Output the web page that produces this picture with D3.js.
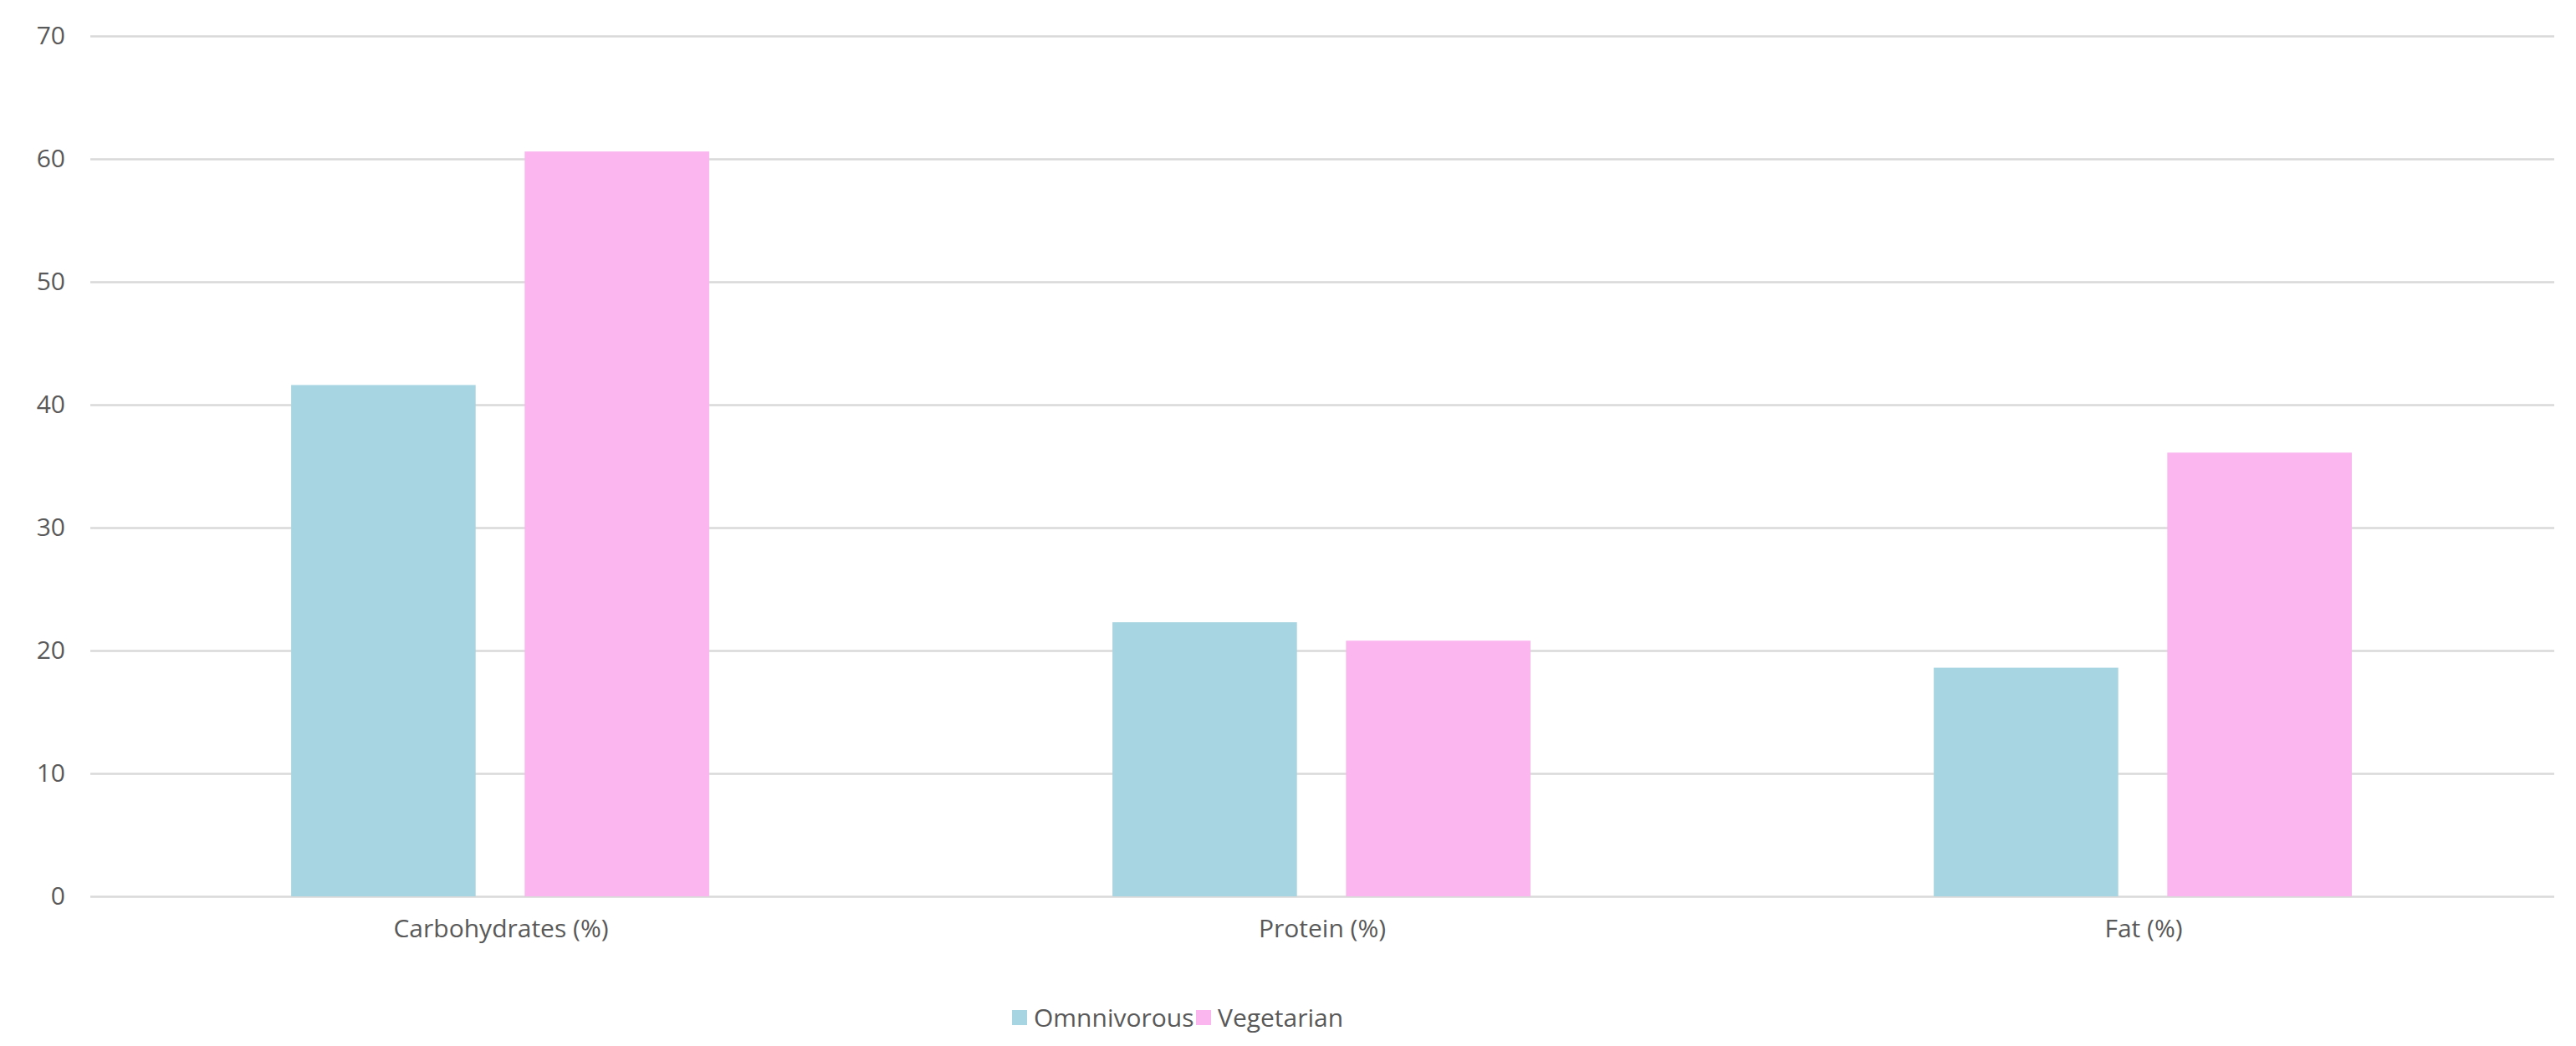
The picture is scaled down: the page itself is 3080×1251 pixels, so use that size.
<!DOCTYPE html><html><head><meta charset="utf-8"><script src="https://cdn.jsdelivr.net/npm/d3@7"></script>
<style>body{margin:0;background:#fff}text{font-family:"Open Sans",Lato,sans-serif;fill:#595959}</style></head><body>
<svg id="c" width="3080" height="1251"></svg>
<script>
const categories=["Carbohydrates (%)","Protein (%)","Fat (%)"];
const seriesNames=["Omnnivorous","Vegetarian"];
const omnivorous=[41.6,22.3,18.6];
const vegetarian=[60.6,20.8,36.1];
const yTicks=[0,10,20,30,40,50,60,70];
const colors=["#a8d5e2","#fbb6ef"];
const svg=d3.select("#c");
const L=108,R=3054,T=43,B=1072;
const y=d3.scaleLinear().domain([0,70]).range([B,T]);
const x0=d3.scaleBand().domain(categories).range([L,R]).padding(0);
const bw=x0.bandwidth();
const x1=d3.scaleBand().domain(seriesNames).range([bw*0.2445,bw*0.7535]).paddingInner(0.21);
const ya=svg.append("g").attr("transform",`translate(${L},0)`).call(d3.axisLeft(y).tickValues(yTicks).tickSize(-(R-L)).tickPadding(30));
ya.select(".domain").remove();
ya.selectAll("line").attr("stroke","#d9d9d9").attr("stroke-width",2.5);
ya.selectAll("text").style("font-size","30px");
const vals=[omnivorous,vegetarian];
categories.forEach((c,i)=>{
  seriesNames.forEach((s,j)=>{
    svg.append("rect").attr("x",x0(c)+x1(s)).attr("width",x1.bandwidth())
      .attr("y",y(vals[j][i])).attr("height",y(0)-y(vals[j][i])).attr("fill",colors[j]);
  });
});
const xa=svg.append("g").attr("transform",`translate(0,${B})`).call(d3.axisBottom(x0).tickSize(0).tickPadding(28));
xa.select(".domain").remove();
xa.selectAll("text").style("font-size","30px");
const lg=svg.append("g");
const lx=[1210,1430];
seriesNames.forEach((s,j)=>{
  lg.append("rect").attr("x",lx[j]).attr("y",1208).attr("width",18).attr("height",18).attr("fill",colors[j]);
  lg.append("text").attr("x",lx[j]+26).attr("y",1228).style("font-size","30px").text(s);
});
</script></body></html>
